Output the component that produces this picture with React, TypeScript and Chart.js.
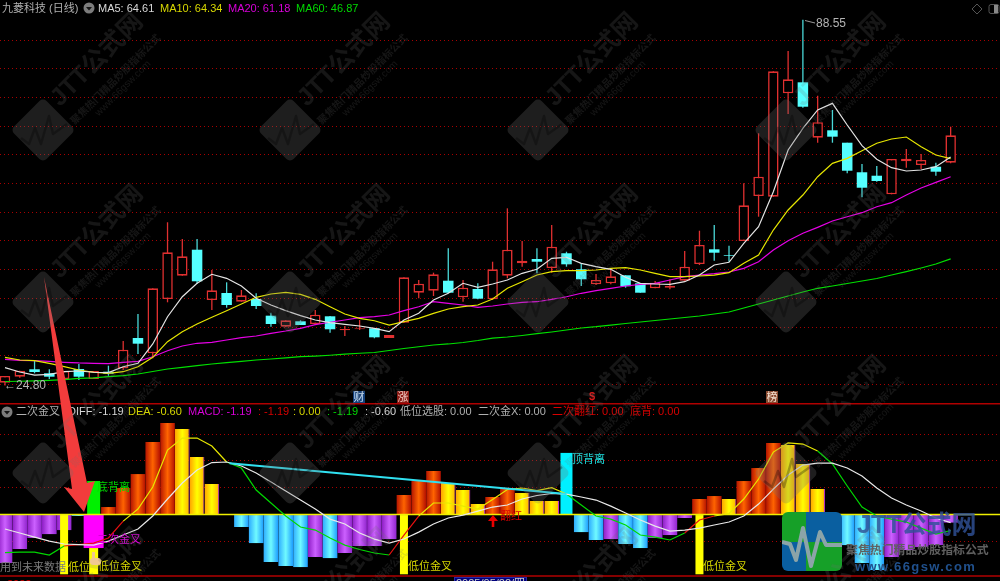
import { useEffect, useRef } from "react";
import { Chart, registerables } from "chart.js";

Chart.register(...registerables);

const opens = [25.30,26.35,27.64,26.94,25.95,27.69,25.95,27.22,27.81,33.09,30.43,39.88,43.94,48.47,39.71,40.93,39.41,39.88,36.98,35.06,36.00,35.53,36.87,34.43,34.61,34.78,33.09,35.76,40.98,41.33,43.07,40.18,41.63,39.83,43.94,46.10,46.85,45.28,47.85,45.06,42.45,42.62,44.01,42.62,41.75,41.85,43.07,45.98,48.54,47.55,49.99,57.83,57.71,75.72,77.63,67.98,69.27,67.11,61.96,61.36,58.12,63.87,63.23,62.93,63.63];
const closes = [26.47,27.39,27.17,26.35,27.34,26.35,27.34,26.87,31.05,32.10,41.75,48.02,47.32,42.97,41.40,38.84,40.53,38.66,35.53,36.17,35.35,37.15,34.61,34.66,34.78,33.21,33.61,43.66,42.55,44.19,40.98,41.85,39.94,45.06,48.47,46.56,46.38,48.99,45.93,43.32,43.19,43.84,42.10,40.98,42.72,42.15,45.51,49.29,47.95,47.43,56.21,61.19,79.55,78.16,73.38,70.67,68.16,62.23,59.27,60.44,64.27,64.32,64.10,62.06,68.40];
const highs = [26.47,27.39,29.14,27.64,27.34,28.56,27.34,28.27,32.57,37.27,41.75,53.25,50.34,50.34,44.94,42.79,41.45,40.88,37.50,36.17,36.17,37.97,36.92,35.18,36.23,34.78,33.61,43.66,43.19,44.47,48.72,43.19,42.62,46.38,55.68,49.99,48.72,52.77,48.12,46.10,44.24,44.94,44.01,42.62,43.02,43.32,48.25,51.78,52.77,49.17,60.04,68.75,79.55,83.09,88.55,75.30,72.81,67.11,63.40,63.05,64.27,66.01,65.14,63.63,69.90];
const lows = [24.80,26.17,26.94,25.95,25.95,25.77,25.95,26.52,27.52,30.30,29.55,39.31,43.94,42.50,37.97,38.37,39.41,38.14,35.06,35.06,35.35,35.35,34.01,33.44,34.48,33.04,33.09,35.76,40.01,40.41,40.88,39.41,39.83,39.71,43.49,45.51,44.36,44.47,45.51,42.15,42.32,42.45,41.85,40.98,41.75,41.57,43.07,45.81,46.56,46.38,49.99,54.22,57.71,72.11,73.21,67.11,67.11,61.78,57.60,60.32,58.12,62.76,62.53,61.36,63.53];
const ma5 = [27.92,27.17,26.64,26.77,27.22,27.34,27.12,27.05,28.09,28.68,32.05,36.80,40.28,42.62,44.19,43.49,42.15,40.01,38.84,37.85,36.98,36.23,35.76,35.48,35.18,34.78,34.19,36.23,37.39,39.71,40.88,42.62,41.92,42.50,43.19,44.36,45.06,46.97,47.15,46.10,45.51,45.06,43.66,42.62,42.50,42.44,42.90,44.06,45.81,46.28,49.59,52.48,58.58,65.84,69.62,72.81,73.97,70.19,66.59,64.22,62.76,62.18,62.36,62.93,64.61];
const ma10 = [29.73,29.26,29.14,28.68,28.09,27.52,27.12,26.94,27.22,28.09,29.73,32.45,34.19,35.53,36.70,37.85,39.01,40.18,40.76,41.05,40.70,39.83,38.54,37.27,36.52,36.10,35.35,35.93,36.52,37.39,38.14,38.54,38.84,39.88,41.75,42.90,44.06,44.64,44.81,44.81,44.94,45.23,45.34,44.94,44.36,43.77,43.77,43.89,44.06,44.47,46.10,47.55,51.90,55.39,58.00,61.19,63.52,64.39,65.72,67.01,67.76,68.10,66.42,64.97,64.34];
const ma20 = [29.38,29.21,29.14,29.03,28.86,28.74,28.68,28.61,28.86,29.03,29.83,30.88,31.70,32.17,32.34,32.74,33.14,33.44,33.91,34.31,34.78,35.41,35.83,36.23,36.63,36.80,37.10,37.85,38.54,39.41,39.13,38.84,38.44,38.66,39.01,39.31,39.41,39.83,40.28,40.88,41.33,41.75,42.15,42.44,42.62,43.19,43.77,44.06,44.29,44.59,45.23,46.38,48.42,50.04,51.33,52.37,53.47,54.22,54.92,55.96,56.66,58.00,59.22,60.21,61.18];
const ma60 = [25.51,25.56,25.63,25.72,25.83,26.07,26.16,26.35,26.52,26.82,27.25,27.69,27.99,28.27,28.56,28.79,29.03,29.26,29.43,29.64,29.83,29.95,30.09,30.27,30.43,30.56,30.91,31.26,31.57,31.87,32.05,32.31,32.65,33.06,33.26,33.53,33.84,34.14,34.48,34.83,35.06,35.35,35.62,35.88,36.14,36.40,36.66,36.92,37.27,37.62,38.32,39.01,39.71,40.41,41.10,41.75,42.15,42.58,43.02,43.46,44.06,44.64,45.28,45.98,46.87];

const macd = [-3.62,-2.57,-1.75,-1.46,-1.16,-0.11,-0.1,0.56,1.98,3.02,5.41,6.83,6.38,4.29,2.28,0,-0.93,-2.13,-3.54,-3.84,-3.92,-3.17,-3.25,-2.87,-2.35,-2.35,-1.83,1.46,2.50,3.25,2.35,1.83,0.78,1.31,1.98,1.60,1.01,1.01,0,-1.31,-1.90,-1.83,-2.20,-2.50,-1.75,-1.53,-0.26,1.16,1.38,1.16,2.50,3.47,5.34,5.19,3.77,1.90,0,-2.28,-3.62,-4.14,-3.17,-2.65,-2.43,-2.28,-0.60];
const macdKinds = ["p","p","p","p","p","c","c","o","o","o","o","o","y","y","y","y","c","c","c","c","c","p","c","p","p","p","p","o","o","o","y","y","y","o","o","y","y","y","c","c","c","p","c","c","p","p","p","o","o","y","o","o","o","y","y","y","y","c","c","c","p","p","p","p","p"];
const dea = [-1.08,-1.38,-1.68,-1.98,-2.20,-2.24,-2.28,-1.98,-1.53,-1.08,-0.11,1.16,2.35,3.32,3.88,3.92,3.62,3.10,2.43,1.75,1.08,0.41,-0.34,-0.71,-1.38,-1.83,-2.13,-1.83,-1.31,-0.71,-0.26,-0.04,0.26,0.56,0.71,1.16,1.42,1.57,1.53,1.31,1.08,0.63,0.11,-0.41,-0.86,-1.23,-1.16,-1.01,-0.78,-0.56,-0.11,0.78,1.90,2.95,3.69,3.84,3.84,3.47,2.87,1.98,1.23,0.71,0.26,-0.26,-0.60];
const diff = [-2.84,-2.80,-2.80,-3.02,-2.35,-2.24,-2.13,-1.75,-0.49,0.41,2.05,4.81,5.71,5.71,5.11,3.92,3.47,1.83,0.86,-0.11,-0.93,-1.16,-1.75,-2.28,-2.61,-2.87,-3.02,-1.53,-0.11,0.86,0.86,0.63,0.41,1.12,1.87,1.98,1.79,2.01,1.53,0.71,-0.11,-0.34,-0.78,-1.53,-1.68,-1.90,-1.38,-0.41,-0.11,0.07,1.16,2.65,4.66,5.34,5.26,4.74,3.77,2.13,0.56,-0.11,-0.34,-0.56,-1.01,-1.46,-1.19];

const lowCrossDays = [4, 27, 47];
const lowCrossFloor = -4.46;
const secondCrossDay = 6;
const secondCrossMagenta = [0, -2.5];
const secondCrossYellow = [-2.5, -4.46];
const bottomDivergence = [0, 2.5];
const topDivergenceDay = 38;
const topDivergence = [0, 4.6];
const trendDays = [15.2, 38];
const trendValues = [3.82, 1.53];
const priceGrid = [85, 80, 75, 70, 65, 60, 55, 50, 45, 40, 35, 30, 25];
const macdGrid = [6, 4, 2, 0, -2];
const panelEdges = [8.27, -4.59];
const highestPrice = 88.55;
const lowestPrice = 24.8;

const X_MIN = -0.338;
const X_MAX = 67.34;
const P_MIN = -9.24;
const P_MAX = 91.97;
const M_MIN = -4.96;
const M_MAX = 38.4;

const pts = (a: number[]) => a.map((y, x) => ({ x, y }));

const ramp: Record<string, string[]> = {
  o: ["#b81800", "#ff6400", "#b81400"],
  y: ["#ffa800", "#ffff00", "#ffb400"],
  c: ["#30b0ff", "#70faff", "#20a0ff"],
  p: ["#9020c8", "#cc60ff", "#9428d0"],
};

const CJK = '"Liberation Sans","Noto Sans CJK SC",sans-serif';

function txt(c: CanvasRenderingContext2D, s: string, x: number, y: number, color: string, size = 11, weight = "") {
  c.font = `${weight} ${size}px ${CJK}`;
  c.fillStyle = color;
  c.textBaseline = "middle";
  c.textAlign = "left";
  c.fillText(s, x, y);
}

function poly(c: CanvasRenderingContext2D, p: number[], color: string) {
  c.fillStyle = color;
  c.beginPath();
  c.moveTo(p[0], p[1]);
  for (let i = 2; i < p.length; i += 2) c.lineTo(p[i], p[i + 1]);
  c.closePath();
  c.fill();
}

function ecg(c: CanvasRenderingContext2D, p: number[], color: string, w: number) {
  c.strokeStyle = color;
  c.lineWidth = w;
  c.lineJoin = "round";
  c.beginPath();
  c.moveTo(p[0], p[1]);
  for (let i = 2; i < p.length; i += 2) c.lineTo(p[i], p[i + 1]);
  c.stroke();
}

function watermark(c: CanvasRenderingContext2D) {
  [43, 290, 538, 786].forEach((cx) =>
    [130, 302, 473, 645].forEach((cy) => {
      c.save();
      c.translate(cx, cy);
      c.save();
      c.rotate(-Math.PI / 4);
      c.fillStyle = "rgba(112,112,112,0.27)";
      c.beginPath();
      c.roundRect(-23, -23, 46, 46, 5);
      c.fill();
      c.fillStyle = "rgba(112,112,112,0.2)";
      c.font = `bold 25px ${CJK}`;
      c.textBaseline = "alphabetic";
      c.textAlign = "left";
      c.fillText("JTT公式网", 28, -4);
      c.font = `bold 10.2px ${CJK}`;
      c.fillText("聚焦热门精品炒股指标公式", 26, 19);
      c.font = `10px ${CJK}`;
      c.fillText("www.66gsw.com", 49, 30);
      c.restore();
      ecg(c, [-22, 8, -14, 14, -8, -2, -2, 14, 6, -14, 10, 4, 24, -6], "rgba(0,0,0,0.28)", 2.5);
      c.restore();
    })
  );
}

function logo(c: CanvasRenderingContext2D) {
  c.save();
  c.beginPath();
  c.roundRect(782, 512, 60, 59, 6);
  c.clip();
  c.fillStyle = "#16a028"; c.fillRect(782, 512, 24, 30);
  c.fillStyle = "#0a5fa0"; c.fillRect(806, 512, 36, 30);
  c.fillStyle = "#0a5fa0"; c.fillRect(782, 542, 24, 29);
  c.fillStyle = "#16a028"; c.fillRect(806, 542, 36, 29);
  ecg(c, [782, 542, 790, 544, 796, 560, 803, 528, 811, 566, 820, 532, 826, 545, 842, 545], "#8ca4a8", 4);
  c.restore();
  c.save();
  c.font = `bold 25px ${CJK}`;
  c.fillStyle = "rgba(48,80,150,0.82)";
  c.textBaseline = "middle";
  c.fillText("JTT公式网", 857, 526);
  c.restore();
  txt(c, "聚焦热门精品炒股指标公式", 846, 551, "#5f5f5f", 11.9, "bold");
  c.save();
  c.font = `bold 13px ${CJK}`;
  (c as any).letterSpacing = "1.4px";
  c.fillStyle = "#20508c";
  c.textBaseline = "middle";
  c.fillText("www.66gsw.com", 855, 567);
  c.restore();
}

function headers(c: CanvasRenderingContext2D) {
  const last = (a: number[]) => a[a.length - 1].toFixed(2);
  txt(c, "九菱科技 (日线)", 2, 9, "#b0b0b0");
  c.fillStyle = "#7c7c7c";
  c.beginPath(); c.arc(89, 8, 5.5, 0, 7); c.fill();
  poly(c, [86, 7, 92, 7, 89, 10.5], "#161616");
  txt(c, `MA5: ${last(ma5)}`, 98, 9, "#d8d8d8");
  txt(c, `MA10: ${last(ma10)}`, 160, 9, "#d8d800");
  txt(c, `MA20: ${last(ma20)}`, 228, 9, "#d800d8");
  txt(c, `MA60: ${last(ma60)}`, 296, 9, "#00d800");
  c.strokeStyle = "#555"; c.lineWidth = 1;
  c.beginPath(); c.moveTo(977, 4); c.lineTo(982, 9); c.lineTo(977, 14); c.lineTo(972, 9); c.closePath(); c.stroke();
  c.beginPath(); c.roundRect(989, 4.5, 10, 9, 2); c.stroke();
  c.fillStyle = "#888"; c.fillRect(994, 5, 4, 8);

  txt(c, `${highestPrice.toFixed(2)}`, 816, 24, "#b4b4b4", 12);
  c.strokeStyle = "#999"; c.beginPath(); c.moveTo(805, 20.5); c.lineTo(815, 23); c.stroke();
  txt(c, `←${lowestPrice.toFixed(2)}`, 4, 386, "#b4b4b4", 12);

  const icons: [string, number, string, string][] = [
    ["财", 353, "#14407a", "#d0e8ff"],
    ["涨", 397, "#8a1a14", "#f4d0c8"],
    ["榜", 766, "#8a4a30", "#f4e0d0"],
  ];
  icons.forEach(([s, x, bg, fg]) => {
    c.fillStyle = bg;
    c.fillRect(x, 391, 12, 12);
    txt(c, s, x + 0.5, 397.5, fg, 11);
  });
  txt(c, "$", 589, 397, "#d81818", 11, "bold");

  const y = 412;
  c.fillStyle = "#7c7c7c";
  c.beginPath(); c.arc(7, 412, 5.5, 0, 7); c.fill();
  poly(c, [4, 411, 10, 411, 7, 414.5], "#161616");
  txt(c, "二次金叉", 16, y, "#b0b0b0");
  txt(c, "DIFF: -1.19", 68, y, "#d8d8d8");
  txt(c, "DEA: -0.60", 128, y, "#d8d800");
  txt(c, "MACD: -1.19", 188, y, "#d800d8");
  txt(c, ": -1.19", 258, y, "#d80000");
  txt(c, ": 0.00", 293, y, "#d8d800");
  txt(c, ": -1.19", 327, y, "#00d800");
  txt(c, ": -0.60", 365, y, "#d8d8d8");
  txt(c, "低位选股: 0.00", 400, y, "#b0b0b0");
  txt(c, "二次金X: 0.00", 478, y, "#b0b0b0");
  txt(c, "二次翻红: 0.00", 552, y, "#d80000");
  txt(c, "底背: 0.00", 630, y, "#d80000");

  txt(c, "底背离", 97, 488, "#00d800");
  txt(c, "二次金叉", 97, 540, "#d800d8");
  txt(c, "用到未来数据", 0, 568, "#7c7c7c");
  txt(c, "低位", 68, 568, "#d8d800");
  txt(c, "低位金叉", 98, 567, "#d8d800");
  txt(c, "低位金叉", 408, 567, "#d8d800");
  txt(c, "低位金叉", 703, 567, "#d8d800");
  txt(c, "顶背离", 572, 460, "#20e0e0");
  txt(c, "翻红", 500, 517, "#d80000");
  poly(c, [493, 515, 498, 521, 494.3, 521, 494.3, 527, 491.7, 527, 491.7, 521, 488, 521], "#e80000");

  c.fillStyle = "#f0c890";
  c.beginPath(); c.roundRect(90, 558, 11, 7, 3); c.fill();
  c.fillRect(92, 552, 3, 8);

  c.fillStyle = "#00007c";
  c.fillRect(455, 577, 72, 4);
  c.strokeStyle = "#2828a8"; c.strokeRect(454.5, 577.5, 72, 5);
  txt(c, "2025/05/22/四", 456, 584, "#c8c8c8");
  txt(c, "2022", 7, 585, "#d80000");
}

function arrow(c: CanvasRenderingContext2D) {
  poly(c, [44, 277, 87, 483, 95, 481, 84, 512, 64, 487, 72, 489], "#f23c3c");
}

const overlay = {
  id: "overlay",
  afterDraw(chart: any) {
    const c = chart.ctx as CanvasRenderingContext2D;
    c.save();
    headers(c);
    arrow(c);
    logo(c);
    watermark(c);
    c.restore();
  },
};

const blackBackground = {
  id: "blackBackground",
  beforeDraw(chart: any) {
    const c = chart.ctx;
    c.save();
    c.fillStyle = "#000";
    c.fillRect(0, 0, chart.width, chart.height);
    c.restore();
  },
};

export default function App() {
  const ref = useRef<HTMLCanvasElement>(null);

  useEffect(() => {
    const isUp = (i: number) => closes[i] >= opens[i];
    const line = (data: any[], color: any, order: number, yAxisID: string, width = 1.2) => ({
      type: "line" as const,
      data,
      borderColor: color,
      borderWidth: width,
      pointRadius: 0,
      tension: 0,
      order,
      yAxisID,
    });
    const band = (data: any[], color: any, thickness: number, order: number, yAxisID: string) => ({
      type: "bar" as const,
      data,
      backgroundColor: color,
      barThickness: thickness,
      grouped: false,
      borderWidth: 0,
      borderSkipped: false,
      inflateAmount: 0,
      order,
      yAxisID,
    });

    const chart = new Chart(ref.current!, {
      type: "bar",
      data: {
        datasets: [
          line(pts(ma5), "#e4e4e4", 1, "price"),
          line(pts(ma10), "#e6e600", 1, "price"),
          line(pts(ma20), "#e600e6", 1, "price"),
          line(pts(ma60), "#00e000", 1, "price"),
          {
            type: "bar" as const,
            data: opens.map((o, i) => ({ x: i, y: [o, closes[i]] })),
            backgroundColor: (ctx: any) => (isUp(ctx.dataIndex) ? "#000" : "#55ffff"),
            borderColor: "#e03030",
            borderWidth: (ctx: any) => (isUp(ctx.dataIndex) ? 1.6 : 0),
            borderSkipped: false,
            inflateAmount: 0,
            barThickness: 10.5,
            grouped: false,
            order: 2,
            yAxisID: "price",
          },
          band(
            highs.map((h, i) => ({ x: i, y: [lows[i], h] })),
            (ctx: any) => (isUp(ctx.dataIndex) ? "#e03030" : "#4ad8d8"),
            1.3,
            3,
            "price"
          ),
          line(trendDays.map((x, i) => ({ x, y: trendValues[i] })), "#30e0f0", 0, "macd", 2),
          line(pts(dea), "#e8e8e8", 1, "macd"),
          {
            ...line(pts(diff), "#ffff00", 1, "macd"),
            segment: {
              borderColor: (s: any) => {
                const i = s.p1DataIndex;
                if (diff[i] < dea[i]) return "#00d800";
                return diff[i] > 0 ? "#e8e800" : "#e81010";
              },
            },
          },
          line(panelEdges.slice(0, 1).flatMap((v) => [{ x: X_MIN, y: v }, { x: X_MAX, y: v }]), "#b00000", 1, "macd", 1.4),
          line(panelEdges.slice(1).flatMap((v) => [{ x: X_MIN, y: v }, { x: X_MAX, y: v }]), "#b00000", 1, "macd", 1.4),
          line([{ x: X_MIN, y: 0 }, { x: X_MAX, y: 0 }], "#f0f000", 3, "macd", 1.4),
          band(lowCrossDays.map((x) => ({ x, y: [0, lowCrossFloor] })), "#ffff00", 8, 4, "macd"),
          band([{ x: secondCrossDay, y: secondCrossMagenta }], "#ff00ff", 20, 4, "macd"),
          band([{ x: secondCrossDay, y: secondCrossYellow }], "#ffff00", 9, 4, "macd"),
          band([{ x: secondCrossDay, y: bottomDivergence }], "#00f000", 13, 4, "macd"),
          band([{ x: topDivergenceDay, y: topDivergence }], "#00f0ff", 12, 4, "macd"),
          {
            type: "bar" as const,
            data: pts(macd),
            backgroundColor: (ctx: any) => {
              const i = ctx.dataIndex;
              if (i === undefined || !macdKinds[i]) return "#000";
              const k = macdKinds[i];
              const px = ((i - X_MIN) / (X_MAX - X_MIN)) * 1000;
              const g = ctx.chart.ctx.createLinearGradient(px - 7, 0, px + 7, 0);
              g.addColorStop(0, ramp[k][0]);
              g.addColorStop(0.5, ramp[k][1]);
              g.addColorStop(1, ramp[k][2]);
              return g;
            },
            borderColor: "#c030d0",
            borderWidth: (ctx: any) => (macdKinds[ctx.dataIndex] === "y" ? { right: 1 } : 0),
            borderSkipped: false,
            inflateAmount: 0,
            barThickness: 14.6,
            grouped: false,
            order: 5,
            yAxisID: "macd",
          },
        ] as any,
      },
      options: {
        responsive: false,
        animation: false,
        layout: { padding: 0, autoPadding: false },
        plugins: { legend: { display: false }, tooltip: { enabled: false } },
        events: [],
        scales: {
          x: { type: "linear", min: X_MIN, max: X_MAX, offset: false, display: false },
          price: {
            type: "linear",
            position: "left",
            min: P_MIN,
            max: P_MAX,
            afterBuildTicks: (s: any) => { s.ticks = priceGrid.map((value) => ({ value })); },
            ticks: { display: false },
            grid: { color: "#a80000", lineWidth: 1, drawTicks: false },
            border: { display: false, dash: [1, 3] },
          },
          macd: {
            type: "linear",
            position: "left",
            min: M_MIN,
            max: M_MAX,
            afterBuildTicks: (s: any) => { s.ticks = macdGrid.map((value) => ({ value })); },
            ticks: { display: false },
            grid: { color: "#a80000", lineWidth: 1, drawTicks: false },
            border: { display: false, dash: [1, 3] },
          },
        },
      } as any,
      plugins: [blackBackground, overlay],
    });
    return () => chart.destroy();
  }, []);

  return (
    <div style={{ position: "absolute", left: 0, top: 0, width: 1000, height: 581, background: "#000", overflow: "hidden" }}>
      <canvas ref={ref} width={1000} height={581} style={{ display: "block" }} />
    </div>
  );
}
